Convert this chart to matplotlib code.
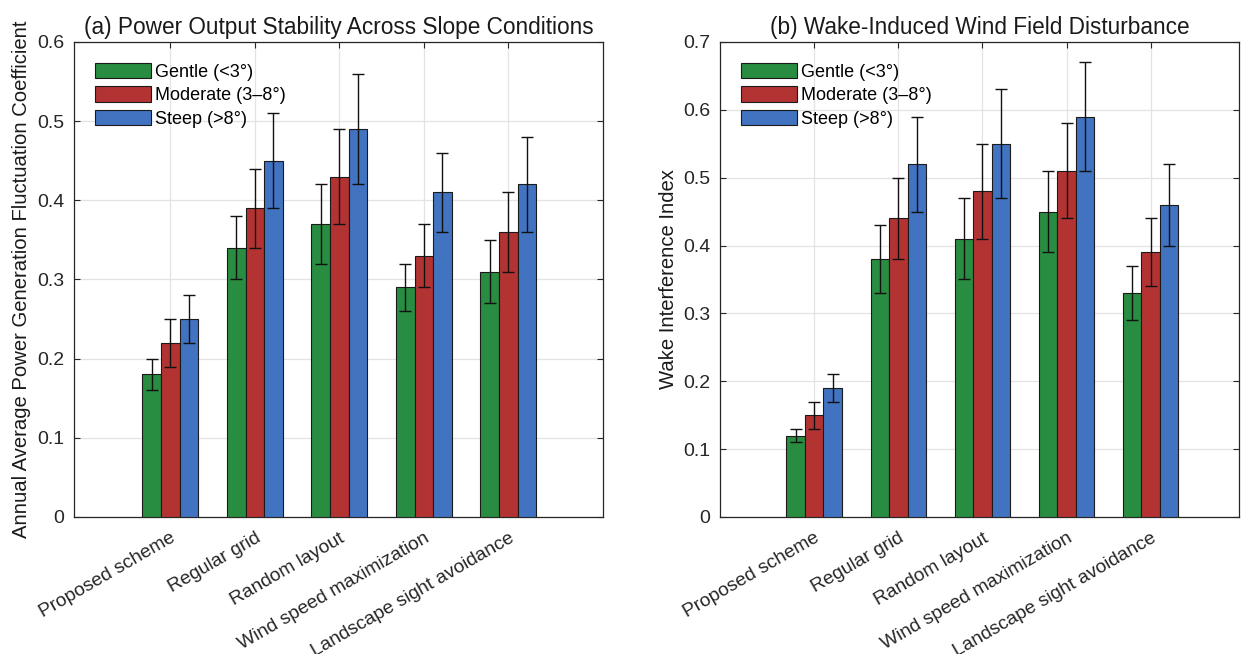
import numpy as np
import matplotlib
matplotlib.use("Agg")
import matplotlib.pyplot as plt

plt.rcParams["font.family"] = ["Liberation Sans", "DejaVu Sans"]

schemes = ["Proposed scheme", "Regular grid", "Random layout",
           "Wind speed maximization", "Landscape sight avoidance"]
slopes = ["Gentle (<3°)", "Moderate (3–8°)", "Steep (>8°)"]
colors = ["#288C41", "#B33333", "#4173C0"]

# (a) power fluctuation coefficient, mean and error per slope class
power_mean = [
    [0.18, 0.34, 0.37, 0.29, 0.31],
    [0.22, 0.39, 0.43, 0.33, 0.36],
    [0.25, 0.45, 0.49, 0.41, 0.42],
]
power_err = [
    [0.02, 0.04, 0.05, 0.03, 0.04],
    [0.03, 0.05, 0.06, 0.04, 0.05],
    [0.03, 0.06, 0.07, 0.05, 0.06],
]

# (b) wake interference index
wake_mean = [
    [0.12, 0.38, 0.41, 0.45, 0.33],
    [0.15, 0.44, 0.48, 0.51, 0.39],
    [0.19, 0.52, 0.55, 0.59, 0.46],
]
wake_err = [
    [0.01, 0.05, 0.06, 0.06, 0.04],
    [0.02, 0.06, 0.07, 0.07, 0.05],
    [0.02, 0.07, 0.08, 0.08, 0.06],
]


def draw_panel(ax, means, errs, title, ylabel, ymax, xlim):
    x = np.arange(1, len(schemes) + 1)
    w = 0.22
    for i in range(3):
        ax.bar(x + (i - 1) * w, means[i], w, yerr=errs[i], color=colors[i],
               edgecolor="#1a1a1a", linewidth=0.8, label=slopes[i],
               error_kw=dict(ecolor="#111111", elinewidth=1.0, capsize=4.5,
                             capthick=1.0), zorder=3)
    ax.set_xlim(*xlim)
    ax.set_ylim(0, ymax)
    ax.set_yticks(np.arange(0, ymax + 0.001, 0.1))
    ax.set_yticklabels(["0"] + ["%.1f" % v for v in np.arange(0.1, ymax + 0.001, 0.1)])
    ax.set_xticks(x)
    ax.set_xticklabels(schemes, rotation=30, ha="right", rotation_mode="anchor")
    ax.tick_params(direction="in", top=True, right=True, labelsize=14,
                   colors="#262626", length=4, width=0.8)
    ax.tick_params(axis="x", labelsize=13.8, pad=9)
    ax.tick_params(axis="y", pad=7)
    ax.grid(True, color="#e3e3e3", linewidth=0.9, zorder=0)
    ax.set_axisbelow(True)
    for s in ax.spines.values():
        s.set_color("#262626")
        s.set_linewidth(0.9)
    ax.set_title(title, fontsize=16.3, color="#1a1a1a", pad=6)
    ax.set_ylabel(ylabel, fontsize=14.6, color="#1a1a1a", labelpad=4)
    ax.legend(loc="upper left", frameon=False, fontsize=13,
              handlelength=3.1, handleheight=0.95, handletextpad=0.25,
              labelspacing=0.3, borderaxespad=0.75, borderpad=0.4)


fig = plt.figure(figsize=(12.41, 6.54), dpi=100)
ax1 = fig.add_axes([0.0596, 0.2095, 0.4263, 0.7263])
ax2 = fig.add_axes([0.5802, 0.2095, 0.4182, 0.7263])

draw_panel(ax1, power_mean, power_err,
           "(a) Power Output Stability Across Slope Conditions",
           "Annual Average Power Generation Fluctuation Coefficient", 0.6,
           (-0.14, 6.12))
draw_panel(ax2, wake_mean, wake_err,
           "(b) Wake-Induced Wind Field Disturbance",
           "Wake Interference Index", 0.7, (-0.12, 6.05))

fig.savefig("out.png", dpi=100, facecolor="white")
